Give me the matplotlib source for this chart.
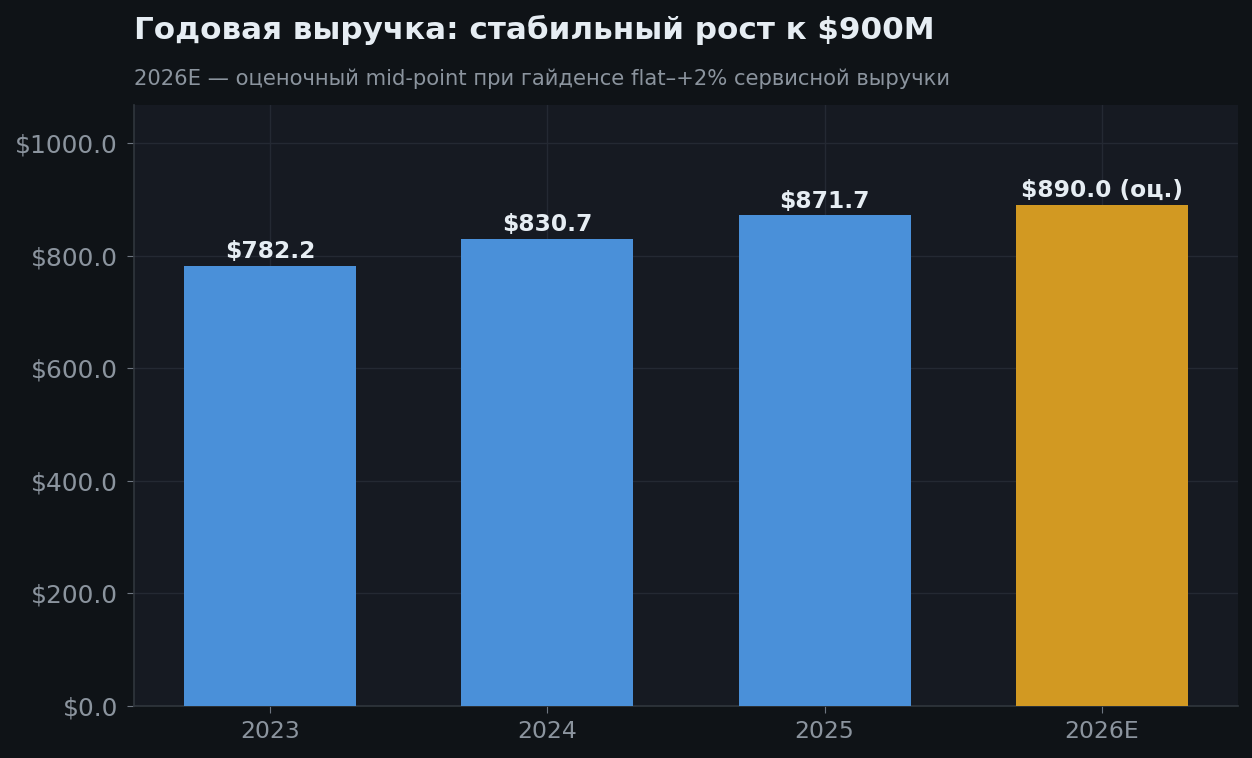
import matplotlib.pyplot as plt
from matplotlib.ticker import FuncFormatter

years = ["2023", "2024", "2025", "2026E"]
revenue = [782.2, 830.7, 871.7, 890.0]
bar_labels = ["$782.2", "$830.7", "$871.7", "$890.0 (оц.)"]
bar_colors = ["#4a90d9", "#4a90d9", "#4a90d9", "#d29922"]

title = "Годовая выручка: стабильный рост к $900M"
subtitle = "2026E — оценочный mid-point при гайденсе flat–+2% сервисной выручки"

fig_bg = "#0f1317"
ax_bg = "#161a22"
grid_c = "#242933"
tick_c = "#8b949e"
text_c = "#e6edf3"

plt.rcParams['font.family'] = ['DejaVu Sans']

fig = plt.figure(figsize=(12.52, 7.58), dpi=100, facecolor=fig_bg)
ax = fig.add_axes([134 / 1252, 1 - 706 / 758, (1238 - 134) / 1252, (706 - 105) / 758])
ax.set_facecolor(ax_bg)

x = range(len(years))
bars = ax.bar(x, revenue, width=0.62, color=bar_colors, zorder=3)
for b, lab in zip(bars, bar_labels):
    ax.annotate(lab, (b.get_x() + b.get_width() / 2, b.get_height()),
                xytext=(0, 2), textcoords="offset points", ha="center", va="bottom",
                fontsize=16.8, fontweight="bold", color=text_c, zorder=4)

ax.set_ylim(0, max(revenue) * 1.2)
ax.set_xticks(list(x))
ax.set_xticklabels(years)
ax.yaxis.set_major_formatter(FuncFormatter(lambda v, p: f"${v:.1f}"))
ax.tick_params(axis="both", colors="#6e7681", labelcolor=tick_c, labelsize=17.9, length=5)
ax.tick_params(axis="y", pad=6.5)
ax.tick_params(axis="x", labelsize=16.9, pad=5)

ax.grid(True, color=grid_c, linewidth=1, zorder=0)
ax.set_axisbelow(True)
for s in ["top", "right"]:
    ax.spines[s].set_visible(False)
for s in ["left", "bottom"]:
    ax.spines[s].set_color("#30363d")
    ax.spines[s].set_linewidth(1.2)

fig.text(134 / 1252, 1 - 39 / 758, title, fontsize=22.3, fontweight="bold", color=text_c,
         ha="left", va="baseline")
fig.text(134 / 1252, 1 - 85 / 758, subtitle, fontsize=15.2, color=tick_c,
         ha="left", va="baseline")

fig.savefig("out.png", dpi=100, facecolor=fig_bg)
